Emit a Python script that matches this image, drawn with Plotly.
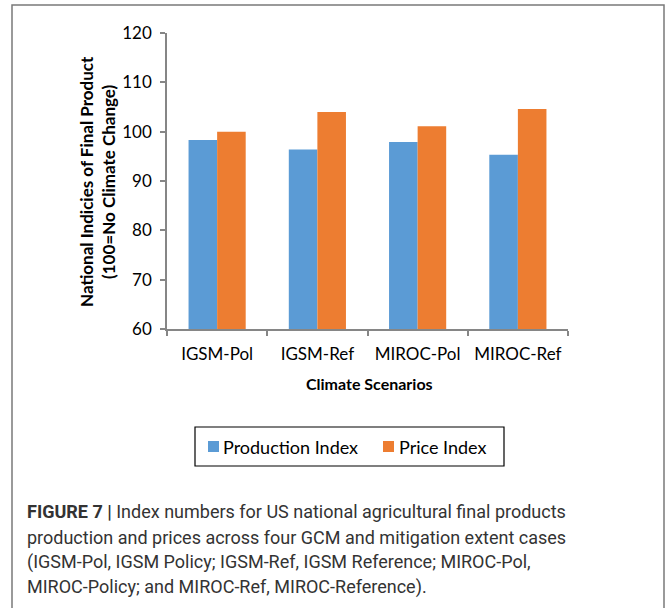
import plotly.graph_objects as go

categories = ["IGSM-Pol", "IGSM-Ref", "MIROC-Pol", "MIROC-Ref"]
production_index = [98.3, 96.4, 97.9, 95.3]
price_index = [100.0, 104.0, 101.1, 104.6]
y_ticks = [60, 70, 80, 90, 100, 110, 120]
series_names = ["Production Index", "Price Index"]
caption_lines = [
    "<b>FIGURE 7 |</b> Index numbers for US national agricultural final products",
    "production and prices across four GCM and mitigation extent cases",
    "(IGSM-Pol, IGSM Policy; IGSM-Ref, IGSM Reference; MIROC-Pol,",
    "MIROC-Policy; and MIROC-Ref, MIROC-Reference).",
]

BLUE = "#5B9BD5"
ORANGE = "#ED7D31"
AXIS = "#868686"
FONT = "Lato, 'Open Sans', sans-serif"
CAP_FONT = "Roboto, sans-serif"

W, H = 667, 608
L, R, T, B = 167, 568, 33, 329


def px(x):
    return (x - L) / (R - L)


def py(y):
    return (B - y) / (B - T)


fig = go.Figure()
fig.add_trace(go.Bar(x=categories, y=production_index, name=series_names[0],
                     marker=dict(color=BLUE, line=dict(width=0))))
fig.add_trace(go.Bar(x=categories, y=price_index, name=series_names[1],
                     marker=dict(color=ORANGE, line=dict(width=0))))

shapes = []
annotations = []

# outer frame
shapes.append(dict(type="rect", xref="paper", yref="paper",
                   x0=px(12), x1=px(664), y0=py(612), y1=py(5),
                   line=dict(color="#7a7a7a", width=1.5), fillcolor="rgba(0,0,0,0)"))

# legend box
shapes.append(dict(type="rect", xref="paper", yref="paper",
                   x0=px(195), x1=px(504), y0=py(466), y1=py(427),
                   line=dict(color="#000000", width=1.2), fillcolor="white"))
shapes.append(dict(type="rect", xref="paper", yref="paper",
                   x0=px(208), x1=px(219), y0=py(452), y1=py(441),
                   line=dict(width=0), fillcolor=BLUE))
shapes.append(dict(type="rect", xref="paper", yref="paper",
                   x0=px(383), x1=px(394), y0=py(452), y1=py(441),
                   line=dict(width=0), fillcolor=ORANGE))
annotations.append(dict(xref="paper", yref="paper", x=px(221), y=py(446.5),
                        xanchor="left", yanchor="middle", showarrow=False,
                        text=series_names[0], font=dict(family=FONT, size=18, color="#000")))
annotations.append(dict(xref="paper", yref="paper", x=px(397), y=py(446.5),
                        xanchor="left", yanchor="middle", showarrow=False,
                        text=series_names[1], font=dict(family=FONT, size=18, color="#000")))

# axis titles
annotations.append(dict(xref="paper", yref="paper", x=px(369), y=py(383),
                        xanchor="center", yanchor="middle", showarrow=False,
                        text="<b>Climate Scenarios</b>", font=dict(family=FONT, size=16, color="#000")))
annotations.append(dict(xref="paper", yref="paper", x=px(97), y=py(182),
                        xanchor="center", yanchor="middle", showarrow=False, textangle=-90,
                        text="<b>National Indicies of Final Product<br>(100=No Climate Change)</b>",
                        font=dict(family=FONT, size=17, color="#000")))

# caption
cap_y = [511, 537, 562, 587]
for line, yy in zip(caption_lines, cap_y):
    annotations.append(dict(xref="paper", yref="paper", x=px(25), y=py(yy),
                            xanchor="left", yanchor="middle", showarrow=False,
                            text=line, font=dict(family=CAP_FONT, size=18, color="#333333")))

fig.update_layout(
    width=W, height=H,
    margin=dict(l=L, r=W - R, t=T, b=H - B, autoexpand=False),
    paper_bgcolor="white", plot_bgcolor="white",
    barmode="group", bargap=0.43, bargroupgap=0,
    showlegend=False,
    shapes=shapes, annotations=annotations,
    font=dict(family=FONT, color="#000"),
)
fig.update_xaxes(
    showline=True, linecolor=AXIS, linewidth=1.5,
    ticks="outside", tickson="boundaries", ticklen=5, tickcolor=AXIS, tickwidth=1.5,
    tickfont=dict(family=FONT, size=17, color="#000"),
    ticklabelstandoff=9,
    showgrid=False, fixedrange=True,
)
fig.update_yaxes(
    range=[60, 120], tickvals=y_ticks,
    showline=True, linecolor=AXIS, linewidth=1.5,
    ticks="outside", ticklen=5, tickcolor=AXIS, tickwidth=1.5,
    tickfont=dict(family=FONT, size=17, color="#000"),
    ticklabelstandoff=5,
    showgrid=False, zeroline=False, fixedrange=True,
)

fig.write_html("out.html", config={"displayModeBar": False},
               post_script="document.body.style.margin='0';")
